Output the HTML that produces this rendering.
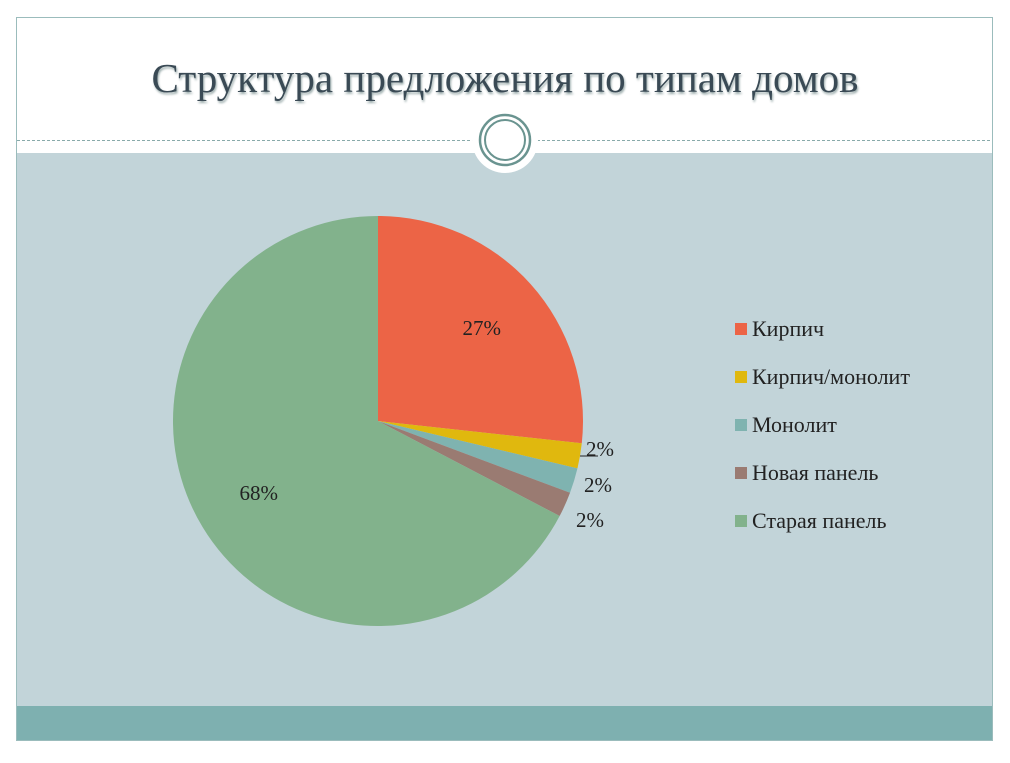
<!DOCTYPE html>
<html><head><meta charset="utf-8"><style>
body{margin:0;width:1010px;height:758px;background:#fff;overflow:hidden;font-family:"Liberation Serif",serif}
</style></head><body>
<svg width="1010" height="758" xmlns="http://www.w3.org/2000/svg">
<rect x="16.5" y="17.5" width="976" height="723" fill="#fff" stroke="#9bbcbc"/>
<rect x="17" y="153" width="975" height="553" fill="#c2d4d9"/>
<rect x="17" y="706" width="975" height="34" fill="#7eb0b0"/>
<line x1="17" y1="140.5" x2="992" y2="140.5" stroke="#8aa" stroke-dasharray="3,2"/>
<circle cx="505" cy="140" r="33" fill="#fff"/>
<circle cx="505" cy="140" r="25" fill="none" stroke="#6a9490" stroke-width="2.5"/>
<circle cx="505" cy="140" r="20" fill="none" stroke="#6a9490" stroke-width="2"/>
<text x="505" y="92" text-anchor="middle" font-size="41" fill="#3a4a55" style="text-shadow:1px 2px 2px #9aa">Структура предложения по типам домов</text>
<g id="pie"></g>
<g id="legend"></g>
</svg>
<script>
const categories=["Кирпич","Кирпич/монолит","Монолит","Новая панель","Старая панель"];
const values=[27,2,2,2,68];
const labels=["27%","2%","2%","2%","68%"];
const colors=["#ec6446","#e0b80e","#7fb3b0","#9a7b72","#82b28c"];
const NS="http://www.w3.org/2000/svg";
const cx=378,cy=421,r=205;
const total=values.reduce((a,b)=>a+b,0);
const pie=document.getElementById('pie');
const lg=document.getElementById('legend');
function pt(a,rr){return [cx+rr*Math.sin(a),cy-rr*Math.cos(a)];}
let a0=0;
values.forEach((v,i)=>{
  const a1=a0+v/total*2*Math.PI;
  const p0=pt(a0,r),p1=pt(a1,r);
  const p=document.createElementNS(NS,'path');
  p.setAttribute('d',`M${cx},${cy}L${p0[0]},${p0[1]}A${r},${r} 0 ${a1-a0>Math.PI?1:0} 1 ${p1[0]},${p1[1]}Z`);
  p.setAttribute('fill',colors[i]);
  
  
  pie.appendChild(p);
  const m=(a0+a1)/2;
  let lp, anchor='middle';
  if(v/total>0.1){lp=pt(m,r*0.68);}
  else{
    const small=[[600,456],[598,492],[590,527]];
    lp=small[i-1]||pt(m,r+30);
    anchor='middle';
  }
  const t=document.createElementNS(NS,'text');
  t.setAttribute('x',lp[0]);t.setAttribute('y',lp[1]+ (v/total>0.1?7:0));
  t.setAttribute('text-anchor',anchor);t.setAttribute('font-size','21');t.setAttribute('fill','#222');
  t.textContent=labels[i];
  
  
  pie.appendChild(t);
  if(i===1){
    const l=document.createElementNS(NS,'line');
    const e=pt(m,r);
    l.setAttribute('x1',e[0]);l.setAttribute('y1',456);l.setAttribute('x2',598);l.setAttribute('y2',456);
    l.setAttribute('stroke','#222');
    
    
    pie.appendChild(l);
  }
  a0=a1;
});
categories.forEach((c,i)=>{
  const y=329+i*48;
  const s=document.createElementNS(NS,'rect');
  s.setAttribute('x',735);s.setAttribute('y',y-6);s.setAttribute('width',12);s.setAttribute('height',12);s.setAttribute('fill',colors[i]);
  
  
  lg.appendChild(s);
  const t=document.createElementNS(NS,'text');
  t.setAttribute('x',752);t.setAttribute('y',y+7);t.setAttribute('font-size','22');t.setAttribute('fill','#222');
  t.textContent=c;
  
  
  lg.appendChild(t);
});
</script>
</body></html>
